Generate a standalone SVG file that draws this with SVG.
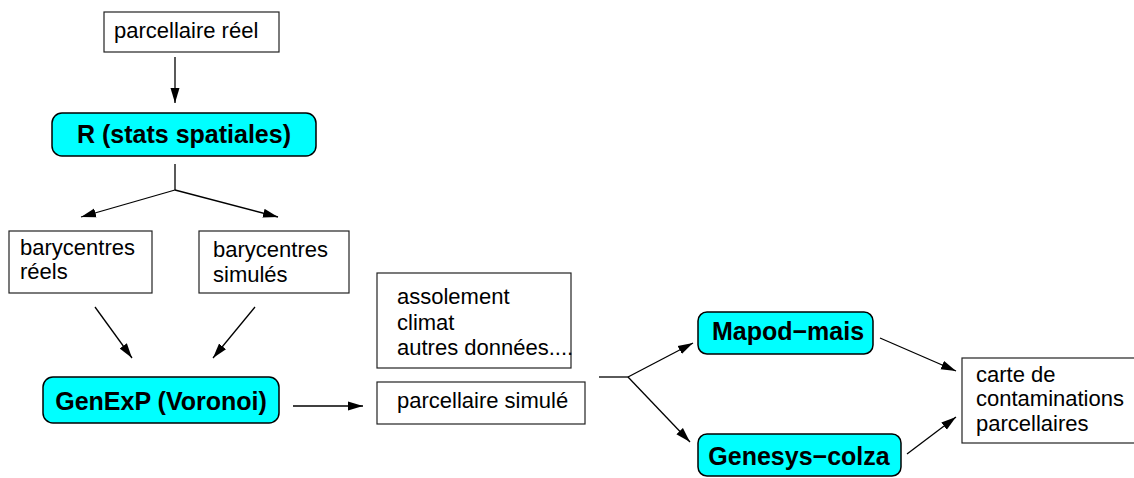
<svg xmlns="http://www.w3.org/2000/svg" width="1134" height="478" viewBox="0 0 1134 478">
<style>
.box{fill:#fff;stroke:#222;stroke-width:1.2}
.tool{fill:#00ffff;stroke:#000;stroke-width:1.5}
.t{font-family:"Liberation Sans",Arial,sans-serif;font-size:22px;fill:#000}
.b{font-family:"Liberation Sans",Arial,sans-serif;font-size:25px;font-weight:bold;fill:#000;text-anchor:middle}
.c{fill:none;stroke:#000;stroke-width:1.3}
</style>
<defs>
<marker id="ah" markerWidth="16" markerHeight="10" refX="15" refY="5" orient="auto" markerUnits="userSpaceOnUse"><path d="M0,0.5 L15,5 L0,9.5 Z" fill="#000"/></marker>
</defs>
<rect width="1134" height="478" fill="#fff"/>
<g id="connectors">
<line class="c" x1="175" y1="57" x2="175" y2="103" marker-end="url(#ah)"/>
<line class="c" x1="175" y1="164" x2="175" y2="190"/>
<line class="c" x1="175" y1="190" x2="81" y2="217" marker-end="url(#ah)"/>
<line class="c" x1="175" y1="190" x2="278" y2="217" marker-end="url(#ah)"/>
<line class="c" x1="95" y1="307" x2="132" y2="358" marker-end="url(#ah)"/>
<line class="c" x1="255" y1="307" x2="213" y2="358" marker-end="url(#ah)"/>
<line class="c" x1="293" y1="406" x2="363" y2="406" marker-end="url(#ah)"/>
<line class="c" x1="599" y1="377" x2="628" y2="377"/>
<line class="c" x1="628" y1="377" x2="693" y2="343" marker-end="url(#ah)"/>
<line class="c" x1="628" y1="377" x2="690" y2="442" marker-end="url(#ah)"/>
<line class="c" x1="880" y1="338" x2="956" y2="371" marker-end="url(#ah)"/>
<line class="c" x1="907" y1="454" x2="956" y2="417" marker-end="url(#ah)"/>
</g>
<g id="parcellaire-reel">
<rect class="box" x="104" y="12" width="175" height="40"/>
<text class="t" x="114" y="38">parcellaire réel</text>
</g>
<g id="r-stats">
<rect class="tool" x="52" y="113" width="264" height="43" rx="10"/>
<text class="b" x="184" y="143">R (stats spatiales)</text>
</g>
<g id="barycentres-reels">
<rect class="box" x="9" y="231" width="143" height="62"/>
<text class="t" x="20" y="255">barycentres</text>
<text class="t" x="20" y="279">réels</text>
</g>
<g id="barycentres-simules">
<rect class="box" x="199" y="231" width="150" height="62"/>
<text class="t" x="213" y="257">barycentres</text>
<text class="t" x="213" y="282">simulés</text>
</g>
<g id="genexp">
<rect class="tool" x="43" y="377" width="236" height="46" rx="10"/>
<text class="b" x="161" y="410">GenExP (Voronoi)</text>
</g>
<g id="donnees">
<rect class="box" x="377" y="273" width="194" height="95"/>
<text class="t" x="397" y="304">assolement</text>
<text class="t" x="397" y="330">climat</text>
<text class="t" x="397" y="355">autres données....</text>
</g>
<g id="parcellaire-simule">
<rect class="box" x="377" y="382" width="208" height="42"/>
<text class="t" x="397" y="408">parcellaire simulé</text>
</g>
<g id="mapod">
<rect class="tool" x="698" y="312" width="175" height="42" rx="9"/>
<text class="b" x="788" y="340">Mapod−mais</text>
</g>
<g id="genesys">
<rect class="tool" x="698" y="434" width="203" height="42" rx="9"/>
<text class="b" x="799" y="465">Genesys−colza</text>
</g>
<g id="carte">
<rect class="box" x="962" y="358" width="180" height="85"/>
<text class="t" x="976" y="382">carte de</text>
<text class="t" x="976" y="406">contaminations</text>
<text class="t" x="976" y="431">parcellaires</text>
</g>
</svg>
